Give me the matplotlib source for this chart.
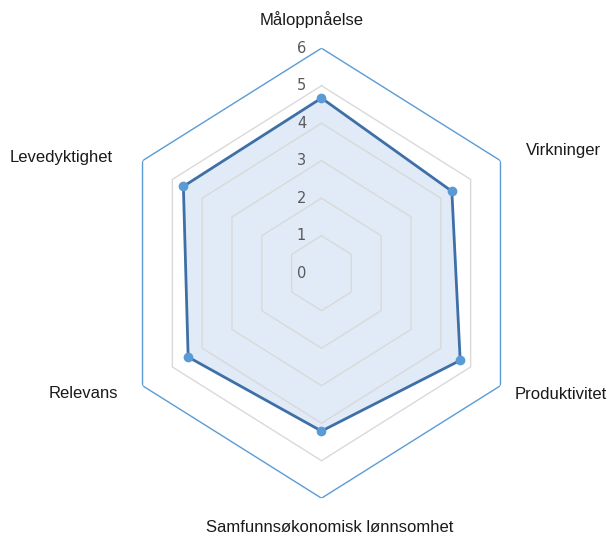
import numpy as np
import matplotlib
matplotlib.use("Agg")
import matplotlib.pyplot as plt

categories = ["Måloppnåelse", "Virkninger", "Produktivitet",
              "Samfunnsøkonomisk lønnsomhet", "Relevans", "Levedyktighet"]
values = [4.67, 4.37, 4.65, 4.21, 4.47, 4.63]
ticks = [0, 1, 2, 3, 4, 5, 6]

plt.rcParams['font.family'] = ['Liberation Sans Narrow', 'Liberation Sans', 'DejaVu Sans']

fig = plt.figure(figsize=(6.16, 5.39), dpi=100)
ax = fig.add_axes([0.1864, 0.0757, 0.671, 0.8349], projection='polar')
ax.set_aspect('auto')
ax.set_theta_zero_location('N')
ax.set_theta_direction(-1)
ax.set_ylim(0, 6)
ax.grid(False)
ax.spines['polar'].set_visible(False)
ax.set_xticks([])
ax.set_yticks([])
ax.patch.set_alpha(0)

n = len(categories)
theta = np.arange(n) * 2 * np.pi / n
theta_c = np.append(theta, theta[0])

for t in ticks[1:-1]:
    ax.plot(theta_c, [t] * (n + 1), color='#D9D9D9', lw=1, zorder=2)
ax.plot(theta_c, [ticks[-1]] * (n + 1), color='#5B9BD5', lw=1, zorder=2)

vals_c = values + values[:1]
ax.fill(theta_c, vals_c, color='#E0EBF7', zorder=1)
ax.plot(theta_c, vals_c, color='#3E6FA6', lw=2, zorder=3)
ax.plot(theta, values, 'o', color='#5B9BD5', ms=6, zorder=4)

for t in ticks:
    ax.annotate(str(t), xy=(0, t), xytext=(-20, 0), textcoords='offset pixels',
                ha='center', va='center', fontsize=10.5, color='#595959',
                family=['Liberation Sans Narrow', 'DejaVu Sans'])

offsets = [(-10, 29, 'center'), (25, 10, 'left'), (14, -9, 'left'),
           (8, -29, 'center'), (-24, -8, 'right'), (-30, 3, 'right')]
for th, lab, (dx, dy, ha) in zip(theta, categories, offsets):
    ax.annotate(lab, xy=(th, ticks[-1]), xytext=(dx, dy), textcoords='offset pixels',
                ha=ha, va='center', fontsize=12, color='#1A1A1A', annotation_clip=False)

fig.savefig('out.png', dpi=100)
